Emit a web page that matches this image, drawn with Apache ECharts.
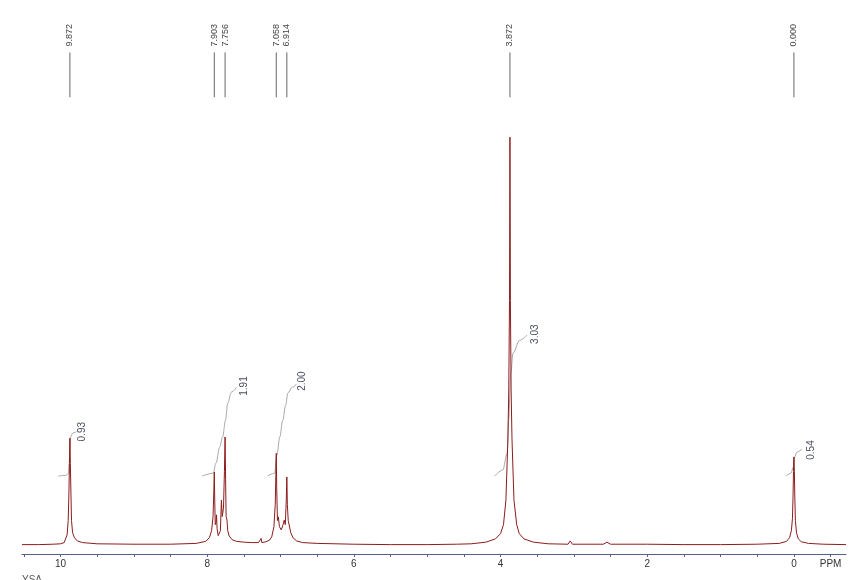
<!DOCTYPE html>
<html>
<head>
<meta charset="utf-8">
<title>1H NMR</title>
<script src="https://cdn.jsdelivr.net/npm/echarts@6.0.0/dist/echarts.min.js"></script>
<style>
  html, body { margin: 0; padding: 0; background: #fff; }
  #chart { width: 856px; height: 580px; }
</style>
</head>
<body>
<div id="chart"></div>
<script>
// spectrum trace, [ppm, intensity] (tallest peak = 100)
var spectrum = [
  [10.525, 0.1], [10.3, 0.1], [10.1, 0.2], [10.0, 0.3], [9.95, 0.6], [9.93, 1.0], [9.91, 2.5],
  [9.895, 6], [9.885, 13], [9.878, 20], [9.872, 26.2], [9.866, 20], [9.858, 13], [9.85, 6],
  [9.835, 3], [9.81, 1.8], [9.77, 1.0], [9.7, 0.6], [9.5, 0.3], [9.0, 0.2], [8.5, 0.2],
  [8.15, 0.4], [8.02, 0.9], [7.97, 1.8], [7.94, 3.5], [7.92, 7], [7.91, 13], [7.903, 17.9],
  [7.897, 11], [7.89, 5], [7.88, 5.5], [7.873, 7.4], [7.865, 4], [7.85, 2.3], [7.84, 2.0],
  [7.82, 3.5], [7.806, 11.0], [7.795, 7], [7.778, 9], [7.765, 18], [7.756, 26.5], [7.749, 16],
  [7.742, 7], [7.73, 6.1], [7.72, 3.5], [7.70, 2.2], [7.66, 1.3], [7.6, 0.9], [7.5, 0.7],
  [7.4, 0.6], [7.3, 0.6], [7.265, 1.6], [7.255, 0.6], [7.2, 0.8], [7.15, 1.2], [7.12, 2.0],
  [7.09, 4.5], [7.072, 10], [7.064, 17], [7.058, 22.5], [7.052, 14], [7.042, 6], [7.03, 6.9],
  [7.015, 4.5], [6.99, 3.7], [6.965, 5], [6.95, 6.1], [6.935, 5], [6.922, 11], [6.914, 16.7],
  [6.907, 10], [6.895, 6], [6.88, 6.1], [6.86, 3], [6.83, 1.8], [6.78, 1.0], [6.7, 0.6],
  [6.5, 0.4], [6.0, 0.2], [5.5, 0.1], [5.0, 0.1], [4.6, 0.2], [4.4, 0.3], [4.2, 0.7],
  [4.07, 1.5], [4.0, 2.8], [3.96, 5], [3.927, 11], [3.90, 26], [3.888, 38], [3.878, 60],
  [3.872, 100], [3.866, 60], [3.856, 38], [3.844, 26], [3.817, 11], [3.78, 5], [3.745, 2.8],
  [3.68, 1.5], [3.55, 0.7], [3.35, 0.3], [3.08, 0.2], [3.05, 1.0], [3.02, 0.2], [2.6, 0.2],
  [2.55, 0.7], [2.5, 0.2], [2.0, 0.2], [1.5, 0.1], [1.0, 0.1], [0.5, 0.2], [0.2, 0.4],
  [0.1, 0.9], [0.06, 1.8], [0.035, 3.5], [0.02, 6.5], [0.012, 12], [0.006, 18], [0.0, 21.6],
  [-0.006, 18], [-0.012, 12], [-0.02, 6], [-0.035, 3], [-0.06, 1.5], [-0.1, 0.8], [-0.2, 0.4],
  [-0.4, 0.2], [-0.71, 0.1]
];

// picked peaks
var peakShifts = [9.872, 7.903, 7.756, 7.058, 6.914, 3.872, 0.000];

// integral curves, [ppm, intensity units]
var integralCurves = [
  [[10.03, 16.9], [9.92, 17.1], [9.89, 17.6], [9.88, 20.0], [9.872, 24.5], [9.86, 26.6], [9.83, 27.5], [9.78, 27.8]],
  [[8.07, 16.9], [7.92, 17.6], [7.88, 20.1], [7.83, 24.0], [7.79, 26.5], [7.75, 30.6], [7.72, 34.8], [7.67, 37.5], [7.60, 38.7]],
  [[7.18, 16.9], [7.08, 17.6], [7.05, 22.0], [7.01, 26.5], [6.97, 30.6], [6.93, 34.3], [6.90, 37.3], [6.84, 38.7], [6.78, 39.5]],
  [[4.08, 16.9], [3.97, 18.4], [3.91, 22.5], [3.89, 30.6], [3.86, 42.2], [3.83, 47.1], [3.74, 50.2], [3.64, 51.5]],
  [[0.11, 16.9], [0.04, 17.6], [0.01, 19.1], [-0.01, 21.6], [-0.04, 22.8], [-0.11, 23.5]]
];
var integralValues = ['0.93', '1.91', '2.00', '3.03', '0.54'];
var integralLabelAt = [[9.70, 27.8], [7.50, 39.0], [6.70, 40.2], [3.53, 51.7], [-0.24, 23.3]];

// axis
var xTickValues = [10.5, 10, 9.5, 9, 8.5, 8, 7.5, 7, 6.5, 6, 5.5, 5, 4.5, 4, 3.5, 3, 2.5, 2, 1.5, 1, 0.5, 0, -0.5];
var xLabelValues = [10, 8, 6, 4, 2, 0, -0.5];
var xMin = -0.71, xMax = 10.525;
var yMin = -2.2, yMax = 131.2;

// heights (intensity units) of the peak-pick markers at the top
var pickLineTop = 120.8, pickLineBottom = 109.8, pickTextY = 125;

var traceColor = '#8c1c1c';
var chart = echarts.init(document.getElementById('chart'));

var series = [{
  type: 'line',
  data: spectrum,
  showSymbol: false,
  sampling: 'none',
  lineStyle: { color: traceColor, width: 1 },
  z: 3
}];

integralCurves.forEach(function (c) {
  series.push({
    type: 'line',
    data: c,
    showSymbol: false,
    smooth: 0.35,
    smoothMonotone: 'x',
    lineStyle: { color: '#a8a8a8', width: 1 },
    z: 2
  });
});

series.push({
  type: 'custom',
  data: integralLabelAt.map(function (p, i) { return [p[0], p[1], i]; }),
  renderItem: function (params, api) {
    var pt = api.coord([api.value(0), api.value(1)]);
    return {
      type: 'text',
      x: pt[0], y: pt[1],
      rotation: Math.PI / 2,
      style: {
        text: integralValues[api.value(2)],
        fill: '#4a5060',
        font: '10px "Liberation Sans", Arial, sans-serif',
        align: 'center', verticalAlign: 'middle',
        textAlign: 'center', textVerticalAlign: 'middle'
      }
    };
  },
  z: 4
});

series.push({
  type: 'custom',
  data: peakShifts.map(function (p) { return [p]; }),
  renderItem: function (params, api) {
    var ppm = api.value(0);
    var x = api.coord([ppm, 0])[0];
    var y1 = api.coord([ppm, pickLineTop])[1];
    var y2 = api.coord([ppm, pickLineBottom])[1];
    var yt = api.coord([ppm, pickTextY])[1];
    return {
      type: 'group',
      children: [{
        type: 'line',
        shape: { x1: x, y1: y1, x2: x, y2: y2 },
        style: { stroke: '#666', lineWidth: 1 }
      }, {
        type: 'text',
        x: x, y: yt,
        rotation: Math.PI / 2,
        style: {
          text: ppm.toFixed(3),
          fill: '#444',
          font: '9px "Liberation Sans", Arial, sans-serif',
          align: 'center', verticalAlign: 'middle',
          textAlign: 'center', textVerticalAlign: 'middle'
        }
      }]
    };
  },
  z: 4
});

chart.setOption({
  animation: false,
  backgroundColor: '#fff',
  grid: { left: 22, right: 10, top: 10, bottom: 26 },
  xAxis: {
    type: 'value',
    inverse: true,
    min: xMin,
    max: xMax,
    splitLine: { show: false },
    axisLine: { onZero: false, lineStyle: { color: '#56608a', width: 1 } },
    axisTick: { customValues: xTickValues, length: 3, lineStyle: { color: '#56608a' } },
    axisLabel: {
      customValues: xLabelValues,
      color: '#333',
      fontSize: 10,
      fontFamily: 'Liberation Sans',
      margin: 5,
      formatter: function (v) { return v < 0 ? 'PPM' : String(v); }
    }
  },
  yAxis: {
    type: 'value',
    min: yMin,
    max: yMax,
    show: false,
    splitLine: { show: false }
  },
  graphic: [{
    type: 'text',
    left: 22,
    top: 575,
    style: { text: 'YSA', fill: '#555', font: '10px "Liberation Sans", Arial, sans-serif' }
  }],
  series: series
});
</script>
</body>
</html>
